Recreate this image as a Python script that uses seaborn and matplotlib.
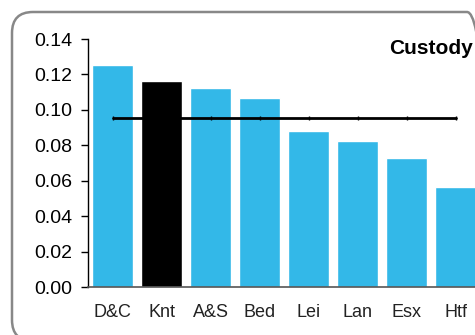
import matplotlib
matplotlib.use("Agg")
import matplotlib.pyplot as plt
from matplotlib.patches import FancyBboxPatch
from matplotlib.transforms import IdentityTransform
import seaborn as sns
import pandas as pd

# data
areas = ["D&C", "Knt", "A&S", "Bed", "Lei", "Lan", "Esx", "Htf"]
rates = [0.1253, 0.1163, 0.1123, 0.1067, 0.0881, 0.0824, 0.0728, 0.0565]
average = 0.0954
highlight = "Knt"
title = "Custody"

sns.set_style("white")
plt.rcParams["font.family"] = ["Liberation Sans", "DejaVu Sans"]
plt.rcParams["text.color"] = "black"
plt.rcParams["xtick.color"] = "black"
plt.rcParams["ytick.color"] = "black"

df = pd.DataFrame({"area": areas, "rate": rates})
blue = "#33B8E8"
colors = {a: ("black" if a == highlight else blue) for a in areas}

fig = plt.figure(figsize=(4.75, 3.35), dpi=100)
ax = fig.add_axes([88 / 475, 1 - 287 / 335, 392 / 475, 248 / 335])

sns.barplot(data=df, x="area", y="rate", hue="area", palette=colors,
            width=0.82, legend=False, ax=ax, saturation=1)

ax.plot(range(len(areas)), [average] * len(areas), color="black", lw=2,
        marker="|", ms=2.5, mew=1)

ax.set_ylim(0, 0.14)
ax.set_xlim(-0.5, len(areas) - 0.5)
ax.set_yticks([0, 0.02, 0.04, 0.06, 0.08, 0.10, 0.12, 0.14])
ax.set_yticklabels([f"{v:.2f}" for v in ax.get_yticks()])
ax.set_xlabel("")
ax.set_ylabel("")
ax.tick_params(axis="y", length=5, width=1, pad=6, labelsize=14, left=True,
               color="black", labelcolor="black")
ax.tick_params(axis="x", length=0, pad=12, labelsize=13, labelcolor="#222222")
sns.despine(ax=ax, top=True, right=True)
ax.spines["left"].set_color("black")
ax.spines["left"].set_linewidth(1)
ax.spines["bottom"].set_color("#555555")
ax.spines["bottom"].set_linewidth(1.2)

fig.text(473 / 475, 1 - 48 / 335, title, ha="right", va="center",
         fontsize=15, fontweight="bold", color="black")

# rounded frame around the chart
frame = FancyBboxPatch((12, -6), 476, 329,
                       boxstyle="round,pad=0,rounding_size=21",
                       transform=IdentityTransform(), fill=False,
                       edgecolor="#888888", lw=1.8)
fig.patches.append(frame)

fig.savefig("out.png", dpi=100)
